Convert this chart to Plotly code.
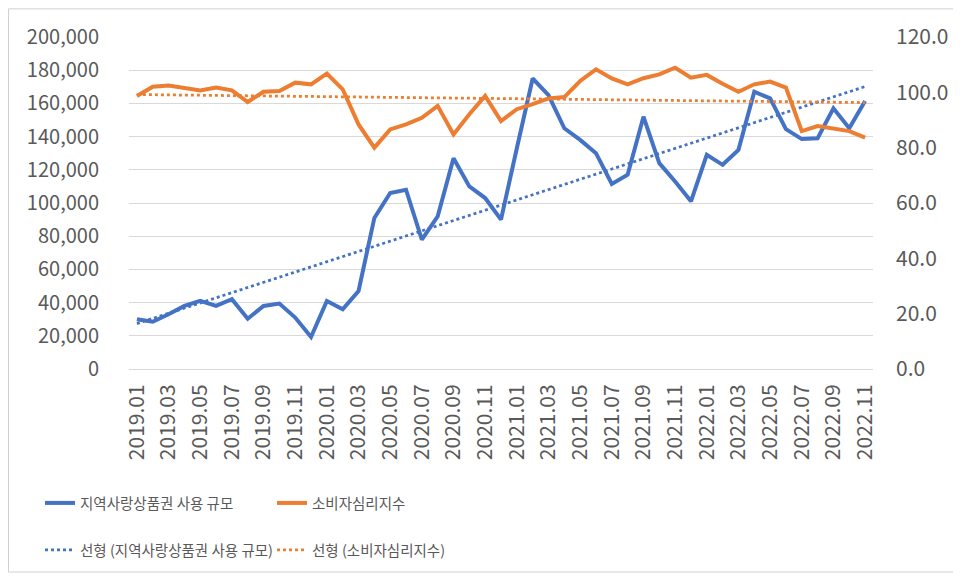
import numpy as np
import plotly.graph_objects as go

months = [f"{y}.{m:02d}" for y in range(2019, 2023) for m in range(1, 13)][:47]

usage = [30000, 28500, 33000, 38000, 41000, 38000, 42000, 30300, 38000, 39400,
         31000, 19300, 41000, 36000, 47000, 91000, 106000, 108000, 78000, 92000,
         127000, 110000, 103000, 90000, 133000, 175000, 165000, 145000, 138000, 130000,
         111500, 117000, 152000, 124000, 113000, 101000, 129000, 123000, 132000, 167000,
         163000, 144500, 138500, 139000, 157000, 145000, 161500]

csi = [98.7, 102.0, 102.5, 101.7, 100.7, 101.7, 100.7, 96.5, 100.2, 100.5,
       103.5, 102.9, 106.8, 101.1, 88.4, 80.0, 86.6, 88.4, 90.8, 95.1,
       84.8, 92.1, 98.7, 89.6, 93.9, 95.7, 97.8, 98.3, 104.1, 108.3,
       105.0, 102.9, 105.1, 106.5, 108.9, 105.3, 106.3, 103.1, 100.2, 102.9,
       103.9, 101.7, 86.0, 87.8, 87.0, 86.0, 83.6]

name_usage = "지역사랑상품권 사용 규모"
name_csi = "소비자심리지수"

idx = np.arange(len(months))
tu = np.polyval(np.polyfit(idx, usage, 1), idx)
tc = np.polyval(np.polyfit(idx, csi, 1), idx)

BLUE = "#4472C4"
ORANGE = "#ED7D31"
GRAY = "#595959"
FONT = "Noto Sans CJK KR"

W, H = 961, 578
L, R, T, B = 121, 96, 28.7, 216.5
PW, PH = W - L - R, H - T - B

fig = go.Figure()
fig.add_trace(go.Scatter(x=months, y=usage, name=name_usage, mode="lines",
                         line=dict(color=BLUE, width=4), legend="legend"))
fig.add_trace(go.Scatter(x=months, y=csi, name=name_csi, mode="lines", yaxis="y2",
                         line=dict(color=ORANGE, width=4), legend="legend"))
fig.add_trace(go.Scatter(x=months, y=tu, name=f"선형 ({name_usage})", mode="lines",
                         line=dict(color=BLUE, width=2.75, dash="dot"), legend="legend2"))
fig.add_trace(go.Scatter(x=months, y=tc, name=f"선형 ({name_csi})", mode="lines", yaxis="y2",
                         line=dict(color=ORANGE, width=2.75, dash="dot"), legend="legend2"))

legend_common = dict(orientation="h", xref="container", yref="container",
                     xanchor="left", yanchor="middle", x=32/W,
                     font=dict(family=FONT, size=14.5, color=GRAY),
                     entrywidth=187, entrywidthmode="pixels",
                     bgcolor="rgba(0,0,0,0)", tracegroupgap=0)

fig.update_layout(
    width=W, height=H,
    margin=dict(l=L, r=R, t=T, b=B, autoexpand=False),
    paper_bgcolor="white", plot_bgcolor="white",
    font=dict(family=FONT, color=GRAY, size=18),
    showlegend=True,
    legend=dict(**legend_common, y=1 - 495/H),
    legend2=dict(**legend_common, y=1 - 542/H),
    xaxis=dict(type="category", categoryorder="array", categoryarray=months,
               range=[-0.5, len(months) - 0.5],
               tickmode="array", tickvals=months[::2], ticktext=months[::2],
               tickangle=-90, showgrid=False, showline=True, linecolor="#d9d9d9",
               ticks="", tickfont=dict(family=FONT, size=21, color=GRAY),
               ticklabelstandoff=6),
    yaxis=dict(range=[0, 200000], dtick=20000, tickformat=",", showgrid=True,
               gridcolor="#d9d9d9", gridwidth=1, zeroline=False, showline=False,
               ticks="", tickfont=dict(family=FONT, size=20, color=GRAY),
               ticklabelstandoff=29),
    yaxis2=dict(range=[0, 120], dtick=20, tickformat=".1f", overlaying="y", side="right",
                showgrid=False, zeroline=False, showline=False, ticks="",
                tickfont=dict(family=FONT, size=21, color=GRAY),
                ticklabelstandoff=22),
)

fig.add_shape(type="rect", xref="paper", yref="paper",
              x0=(0.5 - L) / PW, x1=(948 - L) / PW,
              y0=(H - B - 565) / PH, y1=(H - B - 0.5) / PH,
              line=dict(color="#d0d0d0", width=1), layer="above")

fig.write_html("out.html")
